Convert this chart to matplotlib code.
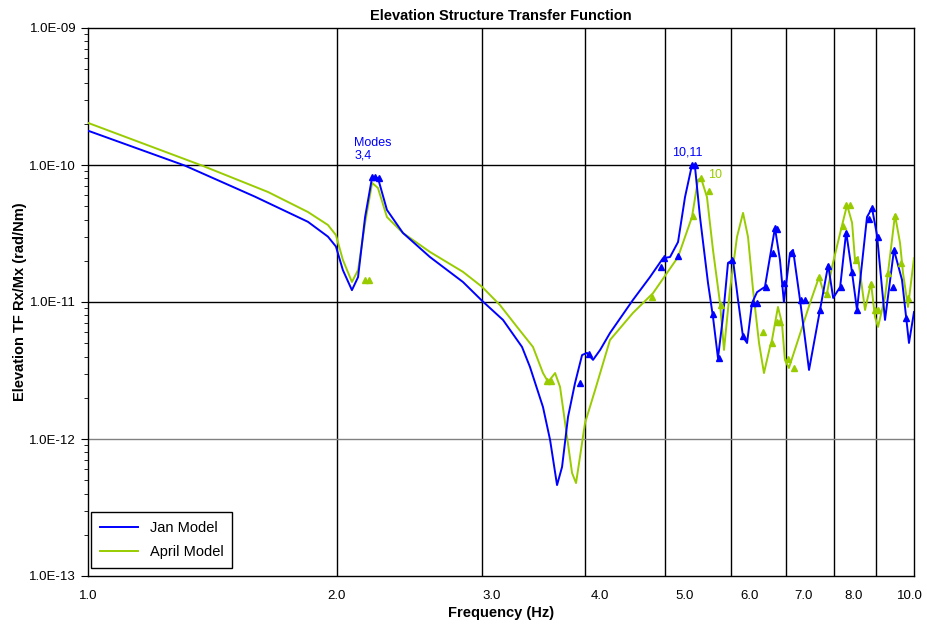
import matplotlib.pyplot as plt
from matplotlib.ticker import LogLocator, NullFormatter, NullLocator, FuncFormatter

plt.rcParams['font.family'] = ['Liberation Sans', 'DejaVu Sans']

# Jan model (blue) - frequency (Hz) and TF magnitude (rad/Nm)
jan_f = [1.0, 1.31, 1.593, 1.846, 1.952, 1.996, 2.035, 2.087, 2.123, 2.165, 2.208, 2.244, 2.301, 2.406,
         2.594, 2.844, 3.0, 3.18, 3.353, 3.428, 3.555, 3.626, 3.697, 3.749, 3.812, 3.887, 3.964, 4.019,
         4.087, 4.169, 4.285, 4.568, 4.79, 4.968, 5.066, 5.18, 5.282, 5.385, 5.431, 5.507, 5.631, 5.71,
         5.79, 5.871, 5.954, 6.038, 6.123, 6.209, 6.279, 6.367, 6.456, 6.6, 6.693, 6.787, 6.882, 6.958,
         7.078, 7.138, 7.278, 7.463, 7.695, 7.872, 7.983, 8.14, 8.277, 8.415, 8.531, 8.772, 8.895, 9.02,
         9.224, 9.457, 9.671, 9.861, 10.0]
jan_tf = [1.78e-10, 9.9e-11, 5.87e-11, 3.85e-11, 3.0e-11, 2.54e-11, 1.71e-11, 1.22e-11, 1.52e-11, 4.17e-11,
          8.17e-11, 8.04e-11, 4.70e-11, 3.19e-11, 2.13e-11, 1.40e-11, 1.02e-11, 7.40e-12, 4.70e-12, 3.36e-12,
          1.71e-12, 9.84e-13, 4.61e-13, 6.25e-13, 1.45e-12, 2.56e-12, 4.10e-12, 4.25e-12, 3.78e-12, 4.47e-12,
          5.94e-12, 1.035e-11, 1.52e-11, 2.09e-11, 2.13e-11, 2.74e-11, 5.84e-11, 1.0e-10, 9.67e-11, 4.17e-11,
          1.38e-11, 7.78e-12, 3.90e-12, 7.78e-12, 1.93e-11, 2.03e-11, 1.035e-11, 5.56e-12, 5.02e-12, 9.84e-12,
          1.18e-11, 1.29e-11, 2.13e-11, 3.47e-11, 2.03e-11, 1.0e-11, 2.28e-11, 2.40e-11, 1.035e-11, 3.19e-12,
          8.75e-12, 1.86e-11, 1.07e-11, 1.29e-11, 3.24e-11, 1.63e-11, 8.75e-12, 4.17e-11, 4.85e-11, 3.08e-11,
          7.40e-12, 2.40e-11, 1.45e-11, 5.02e-12, 8.45e-12]

# April model (green)
april_f = [1.0, 1.378, 1.652, 1.846, 1.952, 1.996, 2.035, 2.087, 2.123, 2.165, 2.208, 2.244, 2.301, 2.406,
           2.594, 2.844, 3.0, 3.153, 3.307, 3.457, 3.555, 3.606, 3.677, 3.728, 3.781, 3.855, 3.898, 3.941,
           3.997, 4.111, 4.285, 4.568, 4.831, 5.18, 5.385, 5.476, 5.522, 5.615, 5.71, 5.823, 5.888, 5.986,
           6.105, 6.209, 6.296, 6.385, 6.492, 6.582, 6.693, 6.731, 6.844, 6.92, 6.978, 7.056, 7.238, 7.484,
           7.674, 7.78, 7.847, 7.957, 8.14, 8.298, 8.415, 8.483, 8.554, 8.724, 8.87, 8.97, 9.046, 9.224,
           9.301, 9.484, 9.618, 9.698, 9.834, 10.0]
april_tf = [2.03e-10, 9.84e-11, 6.35e-11, 4.54e-11, 3.65e-11, 3.08e-11, 2.03e-11, 1.40e-11, 1.71e-11, 3.78e-11,
            7.40e-11, 6.80e-11, 4.17e-11, 3.19e-11, 2.32e-11, 1.66e-11, 1.29e-11, 9.5e-12, 6.58e-12, 4.70e-12,
            3.03e-12, 2.61e-12, 3.03e-12, 2.40e-12, 1.31e-12, 5.65e-13, 4.77e-13, 7.40e-13, 1.31e-12, 2.28e-12,
            5.28e-12, 8.32e-12, 1.16e-11, 2.13e-11, 4.17e-11, 7.78e-11, 8.04e-11, 5.84e-11, 2.40e-11, 9.84e-12,
            4.47e-12, 1.22e-11, 2.98e-11, 4.47e-11, 2.98e-11, 1.22e-11, 5.02e-12, 3.03e-12, 4.70e-12, 5.28e-12,
            9.2e-12, 7.03e-12, 3.78e-12, 3.30e-12, 5.28e-12, 9.84e-12, 1.52e-11, 1.16e-11, 1.16e-11, 1.80e-11,
            3.19e-11, 5.11e-11, 3.78e-11, 2.03e-11, 2.13e-11, 8.75e-12, 1.38e-11, 7.78e-12, 6.58e-12, 1.09e-11,
            1.63e-11, 4.32e-11, 2.70e-11, 1.63e-11, 9.2e-12, 2.09e-11]

# triangle markers (computed modes)
jan_mk_f = [2.208, 2.226, 2.25, 3.94, 4.04, 4.94, 4.98, 5.18, 5.385, 5.43, 5.71, 5.806, 6.02, 6.21, 6.385,
            6.456, 6.62, 6.75, 6.787, 6.83, 6.958, 7.118, 7.30, 7.38, 7.695, 7.872, 8.16, 8.277, 8.415, 8.531,
            8.82, 8.895, 9.05, 9.43, 9.457, 9.78]
jan_mk_tf = [8.17e-11, 8.17e-11, 8.04e-11, 2.56e-12, 4.17e-12, 1.80e-11, 2.09e-11, 2.17e-11, 1.0e-10, 1.0e-10,
             8.17e-12, 3.90e-12, 2.03e-11, 5.65e-12, 9.84e-12, 9.84e-12, 1.29e-11, 2.28e-11, 3.47e-11, 3.40e-11,
             1.38e-11, 2.28e-11, 1.035e-11, 1.035e-11, 8.75e-12, 1.83e-11, 1.29e-11, 3.19e-11, 1.66e-11, 8.75e-12,
             4.04e-11, 4.85e-11, 2.98e-11, 1.29e-11, 2.40e-11, 7.64e-12]
april_mk_f = [2.165, 2.189, 3.595, 3.635, 4.82, 5.40, 5.52, 5.65, 5.84, 6.565, 6.731, 6.83, 6.88, 7.04, 7.155,
              7.674, 7.847, 8.20, 8.277, 8.37, 8.51, 8.87, 8.97, 9.05, 9.30, 9.484, 9.64, 9.834]
april_mk_tf = [1.45e-11, 1.45e-11, 2.65e-12, 2.65e-12, 1.09e-11, 4.25e-11, 8.04e-11, 6.46e-11, 9.5e-12, 6.04e-12,
               5.02e-12, 7.15e-12, 7.15e-12, 3.84e-12, 3.30e-12, 1.52e-11, 1.14e-11, 3.59e-11, 5.11e-11, 5.11e-11,
               2.03e-11, 1.35e-11, 8.75e-12, 8.75e-12, 1.63e-11, 4.25e-11, 1.93e-11, 1.07e-11]

# x tick labels sit where the original chart put them
xlab_pos = [1.0, 2.0, 3.08, 4.17, 5.28, 6.33, 7.34, 8.46, 9.89]
xlab_txt = ['1.0', '2.0', '3.0', '4.0', '5.0', '6.0', '7.0', '8.0', '10.0']
grid_f = [2, 3, 4, 5, 6, 7, 8, 9]
grid_tf = [1e-12, 1e-11, 1e-10]
grid_tf_col = ['#808080', 'black', 'black']

blue = '#0000FF'
green = '#99CC00'

fig = plt.figure(figsize=(9.28, 6.26), dpi=100)
ax = fig.add_axes([88/928, 1-576/626, 826/928, 548/626])

for g in grid_f:
    ax.axvline(g, color='black', lw=1, zorder=1)
for g, c in zip(grid_tf, grid_tf_col):
    ax.axhline(g, color=c, lw=1, zorder=1)

ax.plot(april_f, april_tf, color=green, lw=1.4, zorder=3, label='April Model')
ax.plot(jan_f, jan_tf, color=blue, lw=1.4, zorder=4, label='Jan Model')
ax.plot(april_mk_f, april_mk_tf, ls='none', marker='^', ms=4, color=green, zorder=5)
ax.plot(jan_mk_f, jan_mk_tf, ls='none', marker='^', ms=4, color=blue, zorder=6)

ax.set_xscale('log')
ax.set_yscale('log')
ax.set_xlim(1, 10)
ax.set_ylim(1e-13, 1e-9)

ax.set_xticks(xlab_pos)
ax.set_xticklabels(xlab_txt)
ax.xaxis.set_minor_locator(NullLocator())
ax.tick_params(axis='x', which='both', length=0, pad=10, labelsize=9.5)

ax.yaxis.set_major_locator(LogLocator(base=10, numticks=10))
ax.yaxis.set_minor_locator(LogLocator(base=10, subs=range(2, 10), numticks=10))
ax.yaxis.set_minor_formatter(NullFormatter())
ax.yaxis.set_major_formatter(FuncFormatter(lambda v, p: '%.1E' % v))
ax.tick_params(axis='y', which='major', length=5, labelsize=9.5)
ax.tick_params(axis='y', which='minor', length=3)

for s in ax.spines.values():
    s.set_color('black')
    s.set_linewidth(1)

ax.text(2.1, 1.06e-10, 'Modes\n3,4', color=blue, fontsize=9, ha='left', va='bottom', linespacing=1.1)
ax.text(5.09, 1.12e-10, '10,11', color=blue, fontsize=9, ha='left', va='bottom')
ax.text(5.63, 8.45e-11, '10', color=green, fontsize=9, ha='left', va='center')

ax.set_title('Elevation Structure Transfer Function', fontsize=10.5, fontweight='bold', pad=6)
ax.set_xlabel('Frequency (Hz)', fontsize=10.5, fontweight='bold', labelpad=3)
ax.set_ylabel('Elevation TF Rx/Mx (rad/Nm)', fontsize=10.5, fontweight='bold', labelpad=2)

h, l = ax.get_legend_handles_labels()
leg = ax.legend([h[1], h[0]], [l[1], l[0]], loc='lower left', bbox_to_anchor=(0.004, 0.015),
                fancybox=False, edgecolor='black', framealpha=1, fontsize=10.5, handlelength=2.6,
                borderpad=0.6, labelspacing=0.7, borderaxespad=0)
leg.get_frame().set_linewidth(1)

plt.savefig('out.png', dpi=100)
